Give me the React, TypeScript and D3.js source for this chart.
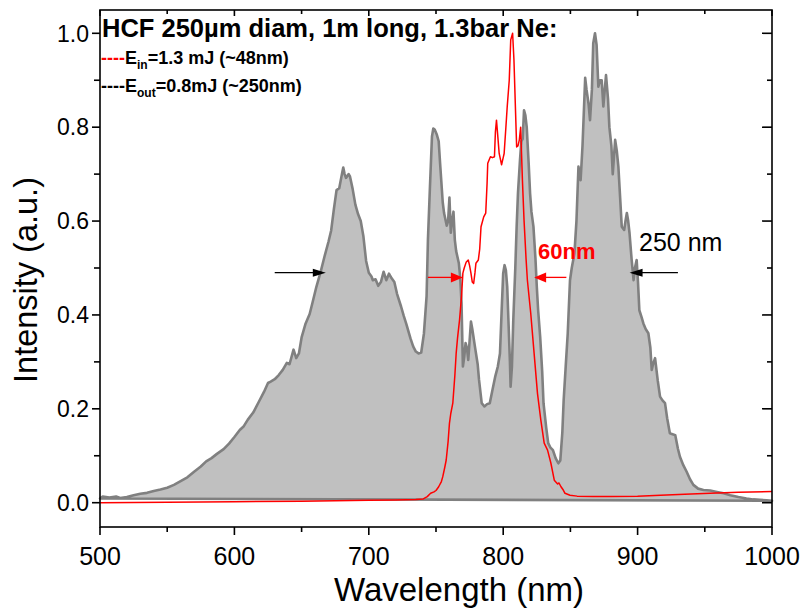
import React from 'react';
import * as d3 from 'd3';

// E_out spectrum (grey, filled)
const outWl = [500,502,507,512,515,520,525,530,535,540,545,550,555,560,565,570,575,579,583,587,592,596,600,604,607,610,614,618,622,625,627,630,633,636,639,641,644,646,648,650,653,656,658,661,664,667,670,672,674,676,678,680,681,682,683,685,686,688,690,692,694,696,698,700,702,703,705,707,709,711,713,715,717,719,721,724,726,728,731,733,735,737,739,741,743,744,745.5,747,748,749,750.5,752,753,755,756,758,759,760,761,762,763,764,765,767,768,769,770,771,772,773,774,776,777,779,781,782,784,786,788,790,792,794,796,797.6,799,800,801,802,803,804,805,805.5,806.5,807.5,809,810,811,812.5,813.5,814.5,815.5,816.5,817.5,819,820,821,822.5,824,825,826,827.5,829,830,832,833.5,835,837,839,841,842.5,844,845,846.5,848,849.7,851,853,854.5,856,857.6,859,861,862,863.5,864.6,866,867,868.3,869.5,870.8,872,873.3,874.5,876.5,878,879,880.5,881.5,882.5,883.3,884.5,885.7,887,888.2,890,891,892,893,894,895.5,897,898,899.3,900.3,901.3,903,904.3,906,908,909.5,910.5,911.5,913,915,916.7,918.5,920.4,922,924,926,928,930,931.5,934,936.5,939,941.5,945,949,954,959,964,969,975,981,986,991,996,1000];
const outI = [0.009,0.013,0.011,0.013,0.010,0.012,0.016,0.019,0.021,0.025,0.028,0.032,0.038,0.046,0.054,0.066,0.077,0.088,0.095,0.104,0.114,0.126,0.140,0.155,0.163,0.177,0.192,0.214,0.236,0.255,0.258,0.263,0.272,0.283,0.298,0.295,0.326,0.308,0.318,0.352,0.382,0.402,0.425,0.46,0.49,0.524,0.556,0.58,0.625,0.666,0.670,0.700,0.714,0.700,0.692,0.700,0.695,0.668,0.635,0.615,0.600,0.567,0.515,0.490,0.482,0.474,0.476,0.462,0.470,0.492,0.474,0.488,0.478,0.470,0.445,0.418,0.398,0.380,0.350,0.333,0.322,0.318,0.320,0.360,0.440,0.560,0.673,0.780,0.797,0.795,0.785,0.770,0.725,0.640,0.617,0.590,0.600,0.650,0.575,0.600,0.620,0.560,0.536,0.510,0.480,0.425,0.290,0.310,0.340,0.330,0.304,0.386,0.370,0.332,0.295,0.262,0.212,0.205,0.210,0.212,0.240,0.268,0.290,0.318,0.420,0.489,0.506,0.495,0.460,0.380,0.300,0.247,0.290,0.389,0.500,0.588,0.660,0.730,0.770,0.775,0.836,0.825,0.800,0.720,0.659,0.620,0.588,0.520,0.460,0.410,0.354,0.280,0.212,0.160,0.127,0.118,0.112,0.095,0.084,0.090,0.150,0.219,0.290,0.360,0.474,0.500,0.531,0.600,0.716,0.687,0.760,0.905,0.880,0.850,0.815,0.880,0.979,1.0,0.975,0.886,0.900,0.900,0.844,0.911,0.860,0.800,0.760,0.700,0.740,0.773,0.750,0.716,0.650,0.588,0.581,0.600,0.617,0.600,0.574,0.520,0.474,0.500,0.517,0.470,0.410,0.395,0.382,0.370,0.361,0.330,0.283,0.295,0.308,0.260,0.226,0.218,0.212,0.180,0.148,0.146,0.144,0.115,0.098,0.080,0.066,0.050,0.038,0.030,0.027,0.026,0.023,0.020,0.016,0.012,0.009,0.007,0.006,0.005,0.004];

// E_in spectrum (red line)
const inWl = [500,550,600,650,700,720,735,740.5,743.5,746,748.5,750,752,754,755,756.5,757.6,759,760,761,762.5,764,765,766,767.5,769,770,771,772.4,774,775,776,777,778,779,779.7,781.5,782.5,783.5,785.5,787,788,788.5,790.5,792,793.5,794.2,795,796,797,798.8,800,800.7,802,803,804.5,805.6,807,808,809,810,811,812,813,814.3,815.5,817,818,820.5,823,825.5,828,830.5,833,835.5,838,840.5,841.5,843,844.7,846,849.7,855,867,880,900,917,935,954,975,1000];
const inI = [0.000,0.001,0.002,0.003,0.005,0.006,0.007,0.008,0.013,0.020,0.023,0.026,0.034,0.045,0.055,0.075,0.091,0.130,0.169,0.190,0.212,0.270,0.318,0.350,0.389,0.440,0.489,0.500,0.512,0.517,0.505,0.489,0.470,0.467,0.490,0.510,0.517,0.540,0.588,0.609,0.617,0.680,0.723,0.737,0.735,0.737,0.790,0.815,0.780,0.744,0.720,0.735,0.744,0.800,0.844,0.900,0.986,1.0,0.943,0.850,0.758,0.760,0.773,0.800,0.687,0.602,0.520,0.474,0.403,0.318,0.233,0.176,0.127,0.112,0.084,0.048,0.040,0.042,0.034,0.027,0.020,0.016,0.014,0.013,0.013,0.014,0.016,0.018,0.020,0.022,0.024];

const xTickValues = [500, 600, 700, 800, 900, 1000];
const xMinorValues = [550, 650, 750, 850, 950];
const yTickValues = [0, 0.2, 0.4, 0.6, 0.8, 1.0];
const yMinorValues = [0.1, 0.3, 0.5, 0.7, 0.9];

// annotation positions in data units
const outHalf = 0.49;
const outArrowL = [630, 668];
const outArrowR = [930, 894];
const inHalf = 0.48;
const inArrowL = [744, 770];
const inArrowR = [823, 847];

const FONT = 'Liberation Sans, Arial, Helvetica, sans-serif';

function Arrow({ x1, x2, y, color, head, hw, sw }: any) {
  const dir = x2 > x1 ? 1 : -1;
  return (
    <g>
      <line x1={x1} y1={y} x2={x2 - dir * head * 0.8} y2={y} stroke={color} strokeWidth={sw} />
      <polygon points={`${x2},${y} ${x2 - dir * head},${y - hw} ${x2 - dir * head},${y + hw}`} fill={color} />
    </g>
  );
}

export default function App() {
  const W = 807, H = 613;
  const left = 100, right = 772, top = 10, bottom = 527;
  const x = d3.scaleLinear().domain([500, 1000]).range([left, right]);
  const y = d3.scaleLinear().domain([0, 1]).range([502.7, 33.3]);

  const outPts: [number, number][] = outWl.map((w, i) => [w, outI[i]]);
  const inPts: [number, number][] = inWl.map((w, i) => [w, inI[i]]);
  const line = d3.line<[number, number]>().x(d => x(d[0])).y(d => y(d[1]));
  const outPath = line(outPts) + 'Z';
  const inPath = line(inPts) || '';

  return (
    <svg width={W} height={H} style={{ position: 'absolute', left: 0, top: 0, background: '#fff' }} fontFamily={FONT}>
      <rect x={0} y={0} width={W} height={H} fill="#fff" />
      <path d={outPath} fill="#c0c0c0" stroke="none" />
      <path d={outPath} fill="none" stroke="#808080" strokeWidth={2.6} strokeLinejoin="round" />
      <path d={inPath} fill="none" stroke="#ff0000" strokeWidth={1.5} strokeLinejoin="round" />

      {/* frame */}
      <rect x={left} y={top} width={right - left} height={bottom - top} fill="none" stroke="#000" strokeWidth={1.6} />

      {/* bottom ticks (outside) and top ticks (inside) */}
      {xTickValues.map(v => (
        <g key={'xt' + v}>
          <line x1={x(v)} x2={x(v)} y1={bottom} y2={bottom + 8} stroke="#000" strokeWidth={1.6} />
          <line x1={x(v)} x2={x(v)} y1={top} y2={top + 6} stroke="#000" strokeWidth={1.6} />
          <text x={x(v)} y={565} fontSize={25} textAnchor="middle" fill="#000">{v}</text>
        </g>
      ))}
      {xMinorValues.map(v => (
        <g key={'xm' + v}>
          <line x1={x(v)} x2={x(v)} y1={bottom} y2={bottom + 5} stroke="#000" strokeWidth={1.6} />
          <line x1={x(v)} x2={x(v)} y1={top} y2={top + 4} stroke="#000" strokeWidth={1.6} />
        </g>
      ))}
      {/* left ticks (outside) and right ticks (inside) */}
      {yTickValues.map(v => (
        <g key={'yt' + v}>
          <line x1={left - 8} x2={left} y1={y(v)} y2={y(v)} stroke="#000" strokeWidth={1.6} />
          <line x1={right - 10} x2={right} y1={y(v)} y2={y(v)} stroke="#000" strokeWidth={1.6} />
          <text x={left - 11} y={y(v)} dy="0.36em" fontSize={23} textAnchor="end" fill="#000">{v.toFixed(1)}</text>
        </g>
      ))}
      {yMinorValues.map(v => (
        <g key={'ym' + v}>
          <line x1={left - 6} x2={left} y1={y(v)} y2={y(v)} stroke="#000" strokeWidth={1.6} />
          <line x1={right - 5} x2={right} y1={y(v)} y2={y(v)} stroke="#000" strokeWidth={1.6} />
        </g>
      ))}

      {/* axis titles */}
      <text x={459} y={601} fontSize={33} textAnchor="middle" fill="#000">Wavelength (nm)</text>
      <text transform="translate(37,280) rotate(-90)" fontSize={32.5} textAnchor="middle" fill="#000">Intensity (a.u.)</text>

      {/* legend / title */}
      <text x={102} y={37} fontSize={25.5} fontWeight="bold" fill="#000">HCF 250µm diam, 1m long, 1.3bar Ne:</text>
      <text x={101} y={64} fontSize={18} fontWeight="bold" fill="#000">
        <tspan fill="#ff0000">----</tspan>
        <tspan>E</tspan>
        <tspan fontSize={12} dy={5}>in</tspan>
        <tspan dy={-5}>=1.3 mJ (~48nm)</tspan>
      </text>
      <text x={101} y={92} fontSize={18} fontWeight="bold" fill="#000">
        <tspan>----E</tspan>
        <tspan fontSize={12} dy={5}>out</tspan>
        <tspan dy={-5}>=0.8mJ (~250nm)</tspan>
      </text>

      {/* annotations */}
      <Arrow x1={x(outArrowL[0])} x2={x(outArrowL[1])} y={y(outHalf)} color="#000" head={13} hw={4} sw={1.3} />
      <Arrow x1={x(outArrowR[0])} x2={x(outArrowR[1])} y={y(outHalf)} color="#000" head={13} hw={4} sw={1.3} />
      <text x={639} y={251} fontSize={25} fill="#000">250 nm</text>
      <Arrow x1={x(inArrowL[0])} x2={x(inArrowL[1])} y={y(inHalf)} color="#ff0000" head={12} hw={5} sw={1.3} />
      <Arrow x1={x(inArrowR[1])} x2={x(inArrowR[0])} y={y(inHalf)} color="#ff0000" head={12} hw={5} sw={1.3} />
      <text x={538} y={259} fontSize={22} fontWeight="bold" fill="#ff0000">60nm</text>
    </svg>
  );
}
